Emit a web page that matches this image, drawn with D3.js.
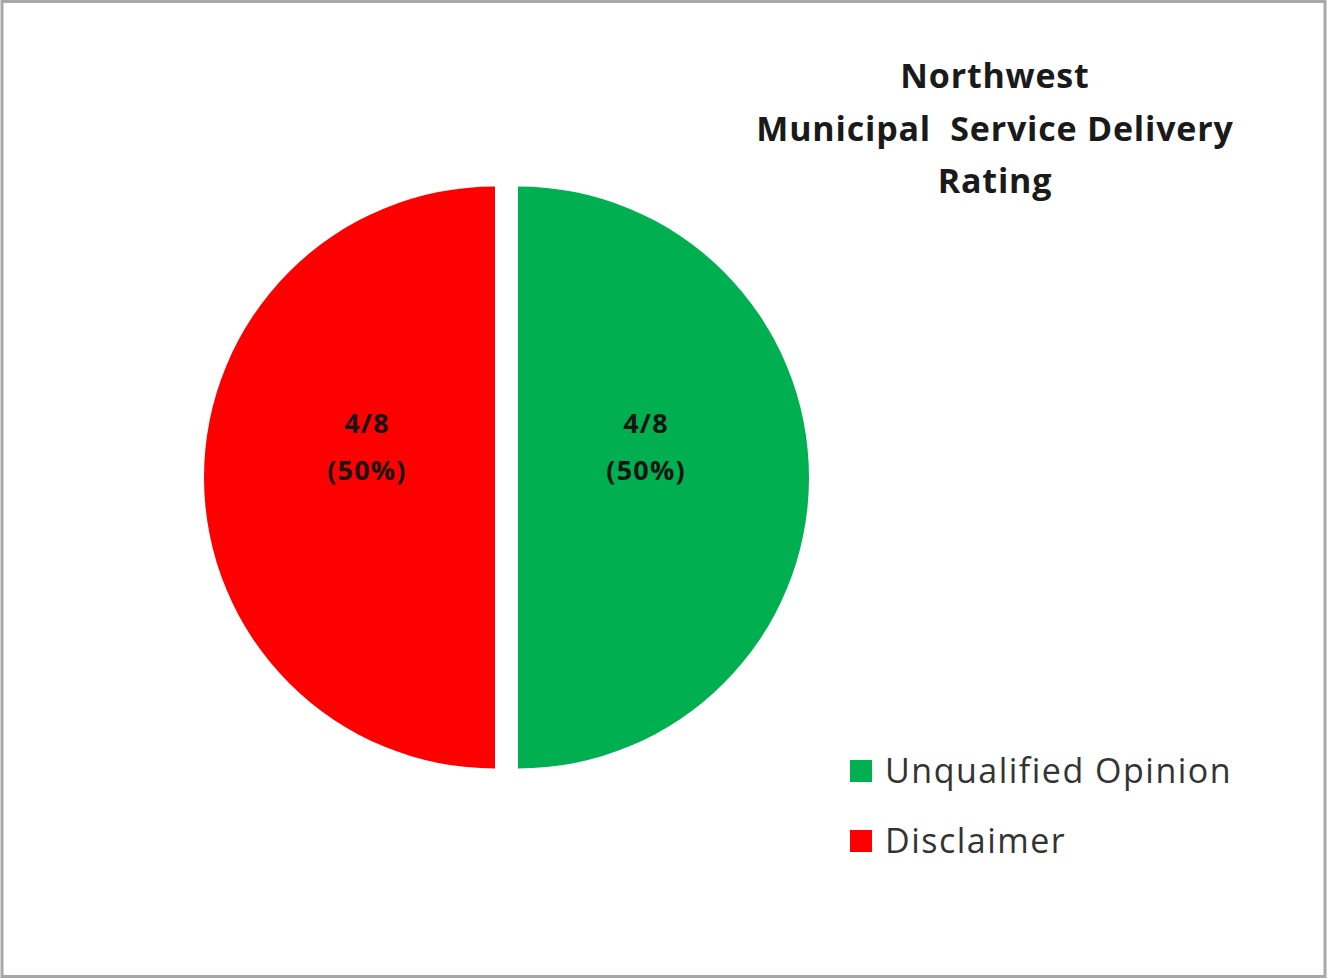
<!DOCTYPE html>
<html>
<head>
<meta charset="utf-8">
<script src="https://cdn.jsdelivr.net/npm/d3@7/dist/d3.min.js"></script>
<style>
  html, body { margin: 0; padding: 0; background: #fff; }
  svg { display: block; }
</style>
</head>
<body>
<svg id="chart" width="1328" height="979"></svg>
<script>
// Audit outcomes for Northwest municipalities
const categories = ["Unqualified Opinion", "Disclaimer"];
const counts = [4, 4];
const total = 8;
const colors = ["#00B050", "#FF0000"];
const titleLines = ["Northwest", "Municipal  Service Delivery", "Rating"];

const data = categories.map((c, i) => ({ name: c, value: counts[i], color: colors[i] }));

const W = 1328, H = 979;
const FONT = "'Open Sans', 'Noto Sans', sans-serif";
const svg = d3.select("#chart");

// frame
svg.append("rect")
  .attr("x", 2).attr("y", 1.5)
  .attr("width", W - 5).attr("height", H - 4)
  .attr("fill", "#fff")
  .attr("stroke", "#a8a8a8")
  .attr("stroke-width", 3);

const cx = 506.5, cy = 477.5, r = 291, explode = 11.5;

const pie = d3.pie().value(d => d.value).sort(null);
const arc = d3.arc().innerRadius(0).outerRadius(r);
const labelArc = d3.arc().innerRadius(r * 0.44).outerRadius(r * 0.44);

const arcs = pie(data);

const g = svg.append("g").attr("transform", `translate(${cx},${cy})`);

const slice = g.selectAll("g.slice")
  .data(arcs)
  .enter().append("g")
  .attr("class", "slice")
  .attr("transform", d => {
    const a = (d.startAngle + d.endAngle) / 2;
    return `translate(${Math.sin(a) * explode},${-Math.cos(a) * explode})`;
  });

slice.append("path")
  .attr("d", arc)
  .attr("fill", d => d.data.color);

// value labels
const fmtPct = d3.format(".0%");
slice.each(function(d) {
  const [lx, ly] = labelArc.centroid(d);
  const t = d3.select(this).append("text")
    .attr("text-anchor", "middle")
    .attr("font-family", FONT)
    .attr("font-weight", "bold")
    .attr("font-size", 27)
    .attr("letter-spacing", 1.2)
    .attr("fill", "#151515");
  t.append("tspan").attr("x", lx).attr("y", ly - 45).text(`${d.data.value}/${total}`);
  t.append("tspan").attr("x", lx).attr("y", ly + 2).text(`(${fmtPct(d.data.value / total)})`);
});

// title
const title = svg.append("text")
  .attr("text-anchor", "middle")
  .attr("font-family", FONT)
  .attr("font-weight", "bold")
  .attr("font-size", 34)
  .attr("letter-spacing", 0.8)
  .attr("fill", "#1a1a1a")
  .attr("xml:space", "preserve");
titleLines.forEach((line, i) => {
  title.append("tspan")
    .attr("x", 995)
    .attr("y", 88 + i * 52.5)
    .text(line);
});

// legend
const legend = svg.append("g").attr("transform", "translate(850,760)");
const item = legend.selectAll("g.item")
  .data(data)
  .enter().append("g")
  .attr("class", "item")
  .attr("transform", (d, i) => `translate(0,${i * 70})`);

item.append("rect")
  .attr("width", 22).attr("height", 22)
  .attr("fill", d => d.color);

item.append("text")
  .attr("x", 35).attr("y", 23)
  .attr("font-family", FONT)
  .attr("font-size", 34)
  .attr("letter-spacing", 1.5)
  .attr("fill", "#333")
  .text(d => d.name);
</script>
</body>
</html>
